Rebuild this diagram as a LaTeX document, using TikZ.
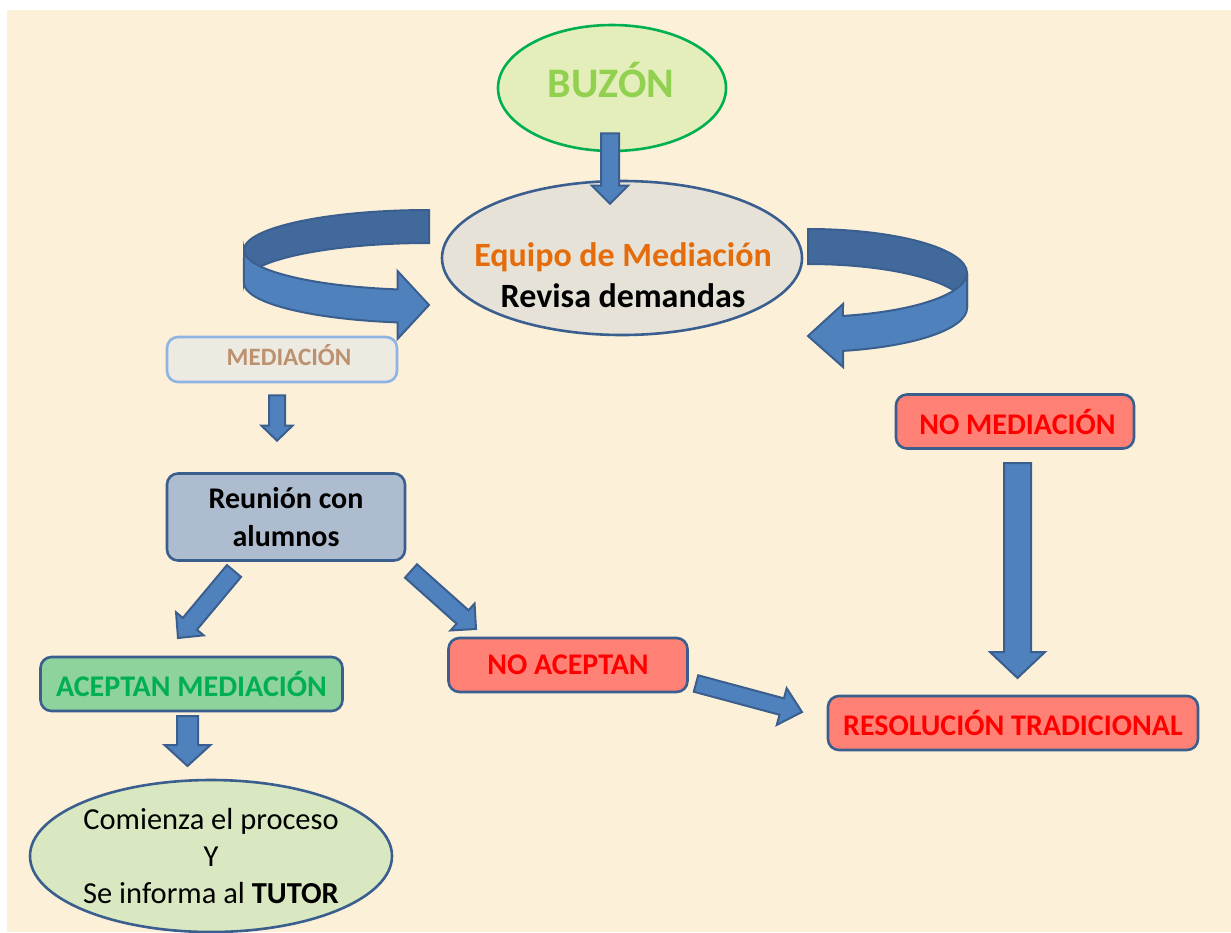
\documentclass[tikz,border=0pt]{standalone}
\usepackage{fontspec}
\setmainfont{Carlito}
\usetikzlibrary{calc,shapes.geometric}
\definecolor{bg}{HTML}{FCF0D9}
\definecolor{edge}{HTML}{3A5F8F}
\definecolor{arrowfill}{HTML}{4F81BD}
\definecolor{arrowdark}{HTML}{41699C}
\definecolor{buzfill}{HTML}{E3EEBB}
\definecolor{buzedge}{HTML}{00B050}
\definecolor{buztext}{HTML}{92D050}
\definecolor{eqfill}{HTML}{E6E2D8}
\definecolor{eqtext}{HTML}{E46C0A}
\definecolor{medfill}{HTML}{EDEAE2}
\definecolor{mededge}{HTML}{8EB4E3}
\definecolor{medtext}{HTML}{BC9170}
\definecolor{reufill}{HTML}{AEBCCF}
\definecolor{acefill}{HTML}{8ED29C}
\definecolor{acetext}{HTML}{00B050}
\definecolor{redfill}{HTML}{FF8176}
\definecolor{redtext}{HTML}{FF0000}
\definecolor{comfill}{HTML}{D9E8C0}
\tikzset{
  blockarrow/.style={fill=arrowfill, draw=edge, line width=2pt, line join=miter},
  curvedark/.style={fill=arrowdark, draw=edge, line width=2pt, line join=miter},
  oval/.style={ellipse, draw=edge, line width=2.6pt, inner sep=0pt},
  boxnode/.style={rectangle, rounded corners=11pt, draw=edge, line width=2.6pt, inner sep=0pt, align=center},
  redbox/.style={boxnode, fill=redfill, text=redtext, font=\fontsize{30}{36}\selectfont\bfseries},
}
\newcommand{\blockarr}[5]{%
  \coordinate (ba-h) at ($(#2)!#5!(#1)$);
  \path[blockarrow] ($(#1)!#3!90:(#2)$) -- ($(ba-h)!#3!90:(#2)$) -- ($(ba-h)!#4!90:(#2)$) -- (#2)
    -- ($(ba-h)!#4!-90:(#2)$) -- ($(ba-h)!#3!-90:(#2)$) -- ($(#1)!#3!-90:(#2)$) -- cycle;}
\begin{document}
\begin{tikzpicture}[x=1pt,y=1pt]
\useasboundingbox (0,0) rectangle (1231,-932);
\fill[white] (0,0) rectangle (1231,-932);
\fill[bg] (7,-10) rectangle (1231,-932);

% ellipses
\node[oval, draw=buzedge, fill=buzfill, minimum width=228pt, minimum height=126pt] (buzon) at (612,-88) {};
\node[text=buztext, font=\fontsize{42}{48}\selectfont\bfseries] (buzontext) at (611,-80) {BUZÓN};
\node[oval, fill=eqfill, minimum width=360pt, minimum height=154pt] (equipo) at (622,-258) {};
\node[align=center, font=\fontsize{34}{41}\selectfont\bfseries] (equipotext) at (623,-275)
  {\textcolor{eqtext}{Equipo de Mediación}\\Revisa demandas};
\node[oval, fill=comfill, minimum width=362pt, minimum height=152pt, align=center,
  font=\fontsize{30.5}{37}\selectfont] (comienza) at (211,-856)
  {Comienza el proceso\\Y\\Se informa al \textbf{TUTOR}};

% boxes
\node[boxnode, draw=mededge, fill=medfill, minimum width=230pt, minimum height=45pt] (mediacion) at (282,-359.5) {};
\node[text=medtext, font=\fontsize{25}{30}\selectfont\bfseries] (mediaciontext) at (289,-355) {MEDIACIÓN};
\node[boxnode, fill=reufill, minimum width=238pt, minimum height=87pt,
  font=\fontsize{30}{38}\selectfont\bfseries] (reunion) at (286,-517) {Reunión con\\alumnos};
\node[boxnode, fill=acefill, text=acetext, minimum width=302pt, minimum height=54pt,
  font=\fontsize{30}{36}\selectfont\bfseries] (aceptan) at (191.5,-684) {ACEPTAN MEDIACIÓN};
\node[redbox, minimum width=239pt, minimum height=54pt] (noacep) at (568,-665) {NO ACEPTAN};
\node[redbox, minimum width=238pt, minimum height=54pt] (nomed) at (1015,-421.5) {\hspace*{5pt}NO MEDIACIÓN};
\node[redbox, minimum width=370pt, minimum height=54pt] (resol) at (1013,-723) {RESOLUCIÓN TRADICIONAL};

% straight block arrows
\coordinate (a1s) at ($(buzon.south)+(-2,19)$);   \coordinate (a1e) at ($(equipo.north)+(-12,-24)$);
\blockarr{a1s}{a1e}{9pt}{18pt}{18pt}
\coordinate (a2s) at ($(mediacion.south)+(-5,-12)$); \coordinate (a2e) at ($(reunion.north)+(-9,31.5)$);
\blockarr{a2s}{a2e}{8pt}{15.5pt}{15pt}
\coordinate (a3s) at (234,-571); \coordinate (a3e) at (178,-638);
\blockarr{a3s}{a3e}{9.2pt}{18pt}{18.5pt}
\coordinate (a4s) at (411,-571); \coordinate (a4e) at (476,-629);
\blockarr{a4s}{a4e}{9pt}{18pt}{18pt}
\coordinate (a5s) at (696,-683.5); \coordinate (a5e) at (802,-712);
\blockarr{a5s}{a5e}{8.5pt}{19pt}{21pt}
\coordinate (a6s) at (187.5,-716); \coordinate (a6e) at (187.5,-766);
\blockarr{a6s}{a6e}{10.5pt}{23pt}{21pt}
\coordinate (a7s) at (1017.5,-463); \coordinate (a7e) at (1017.5,-678);
\blockarr{a7s}{a7e}{13.5pt}{27.5pt}{26pt}

% left curved arrow (towards the mediation branch)
\path[curvedark] (429,-210) arc[start angle=90, end angle=180, x radius=185, y radius=40]
  -- (244,-283) arc[start angle=180, end angle=90, x radius=185, y radius=40] -- cycle;
\path[blockarrow] (244,-250) arc[start angle=180, end angle=260.2, x radius=185, y radius=40]
  -- (397.5,-271) -- (429,-305) -- (397.5,-339) -- (397.5,-322.4)
  arc[start angle=260.2, end angle=180, x radius=185, y radius=40] -- cycle;

% right curved arrow (towards no mediation)
\path[curvedark] (808,-229) arc[start angle=90, end angle=0, x radius=159, y radius=44]
  -- (967,-308) arc[start angle=0, end angle=90, x radius=159, y radius=44] -- cycle;
\path[blockarrow] (967,-273) arc[start angle=0, end angle=-77.3, x radius=159, y radius=44]
  -- (843,-304) -- (808,-336) -- (843,-367) -- (843,-350.9)
  arc[start angle=-77.3, end angle=0, x radius=159, y radius=44] -- cycle;
\end{tikzpicture}
\end{document}
